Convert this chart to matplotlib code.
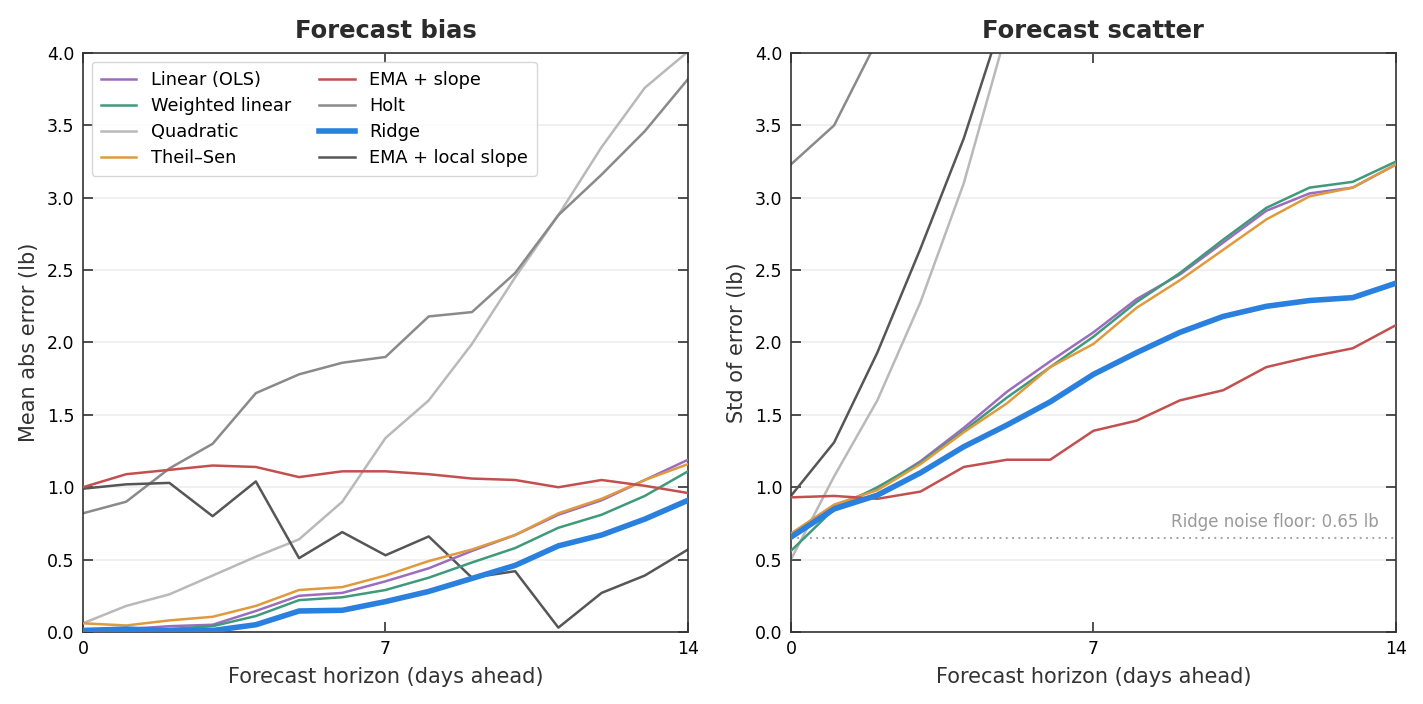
import numpy as np
from matplotlib import pyplot as plt

# Forecast horizon (days ahead)
days = np.arange(15)

# Mean abs error (lb) per method
bias_ols = [0.02, 0.02, 0.04, 0.05, 0.145, 0.25, 0.27, 0.35, 0.44, 0.56, 0.67, 0.81, 0.91, 1.05, 1.19]
bias_wlin = [0.01, 0.01, 0.02, 0.04, 0.11, 0.22, 0.24, 0.29, 0.375, 0.48, 0.58, 0.72, 0.81, 0.94, 1.11]
bias_quad = [0.06, 0.18, 0.26, 0.39, 0.52, 0.64, 0.90, 1.34, 1.60, 1.99, 2.45, 2.88, 3.35, 3.76, 4.01]
bias_theil = [0.06, 0.045, 0.08, 0.105, 0.18, 0.29, 0.31, 0.39, 0.49, 0.57, 0.67, 0.82, 0.92, 1.05, 1.16]
bias_ema = [1.00, 1.09, 1.12, 1.15, 1.14, 1.07, 1.11, 1.11, 1.09, 1.06, 1.05, 1.00, 1.05, 1.01, 0.96]
bias_holt = [0.82, 0.90, 1.13, 1.30, 1.65, 1.78, 1.86, 1.90, 2.18, 2.21, 2.48, 2.88, 3.16, 3.46, 3.82]
bias_ridge = [0.01, 0.02, 0.01, 0.01, 0.05, 0.145, 0.15, 0.21, 0.28, 0.37, 0.46, 0.595, 0.67, 0.78, 0.91]
bias_emaloc = [0.99, 1.02, 1.03, 0.80, 1.04, 0.51, 0.69, 0.53, 0.66, 0.375, 0.42, 0.03, 0.27, 0.39, 0.57]

# Std of error (lb) per method
std_ols = [0.67, 0.87, 0.99, 1.18, 1.41, 1.66, 1.87, 2.07, 2.30, 2.47, 2.69, 2.91, 3.03, 3.07, 3.23]
std_wlin = [0.56, 0.85, 1.00, 1.17, 1.39, 1.62, 1.83, 2.04, 2.28, 2.48, 2.71, 2.93, 3.07, 3.11, 3.25]
std_quad = [0.50, 1.075, 1.60, 2.28, 3.10, 4.16, 5.3, 6.5, 7.8, 9.2, 10.7, 12.3, 14.0, 15.8, 17.7]
std_theil = [0.68, 0.88, 0.98, 1.16, 1.38, 1.58, 1.83, 1.99, 2.24, 2.43, 2.64, 2.85, 3.01, 3.07, 3.23]
std_ema = [0.93, 0.94, 0.92, 0.97, 1.14, 1.19, 1.19, 1.39, 1.46, 1.60, 1.67, 1.83, 1.90, 1.96, 2.12]
std_holt = [3.23, 3.50, 4.09, 4.7, 5.3, 5.9, 6.5, 7.1, 7.7, 8.3, 8.9, 9.5, 10.1, 10.7, 11.3]
std_ridge = [0.655, 0.85, 0.945, 1.10, 1.28, 1.43, 1.59, 1.78, 1.93, 2.07, 2.18, 2.25, 2.29, 2.31, 2.41]
std_emaloc = [0.94, 1.31, 1.93, 2.65, 3.41, 4.33, 5.3, 6.3, 7.3, 8.4, 9.5, 10.6, 11.7, 12.9, 14.1]

noise_floor = 0.65

methods = ["Linear (OLS)", "Weighted linear", "Quadratic", "Theil\u2013Sen",
           "EMA + slope", "Holt", "Ridge", "EMA + local slope"]
colors = ["#9c6cbf", "#3f9a7b", "#b9b9b9", "#e09a3e",
          "#c44f4f", "#8a8a8a", "#2a80de", "#565656"]
widths = [1.8, 1.8, 1.8, 1.8, 1.8, 1.8, 4.0, 1.8]
zorders = [3, 3, 2, 3, 3, 2, 4, 2]

bias = [bias_ols, bias_wlin, bias_quad, bias_theil, bias_ema, bias_holt, bias_ridge, bias_emaloc]
scatter = [std_ols, std_wlin, std_quad, std_theil, std_ema, std_holt, std_ridge, std_emaloc]

plt.rcParams['font.family'] = ['DejaVu Sans']

fig, (ax1, ax2) = plt.subplots(1, 2, figsize=(14.23, 7.04), dpi=100)
fig.subplots_adjust(left=0.0583, right=0.981, bottom=0.1023, top=0.9247, wspace=0.17)

for ax, data, title, ylabel in [(ax1, bias, "Forecast bias", "Mean abs error (lb)"),
                                (ax2, scatter, "Forecast scatter", "Std of error (lb)")]:
    for name, vals, c, lw, z in zip(methods, data, colors, widths, zorders):
        ax.plot(days, vals, color=c, lw=lw, label=name, zorder=z)
    ax.set_xlim(0, 14)
    ax.set_ylim(0, 4)
    ax.set_xticks([0, 7, 14])
    ax.set_yticks(np.arange(0, 4.01, 0.5))
    ax.grid(axis="y", color="#eeeeee", lw=1.2, zorder=0)
    ax.set_axisbelow(True)
    ax.tick_params(direction="in", length=7, width=1.2, top=True, right=True,
                   labelsize=12.5, color="#333333", pad=6)
    for s in ax.spines.values():
        s.set_color("#333333")
        s.set_linewidth(1.2)
    ax.set_title(title, fontsize=17.5, fontweight="bold", color="#2b2b2b", pad=11)
    ax.set_xlabel("Forecast horizon (days ahead)", fontsize=15, color="#333333", labelpad=6)
    ax.set_ylabel(ylabel, fontsize=15, color="#333333", labelpad=6)

ax1.legend(loc="upper left", ncol=2, fontsize=12.8, frameon=True, edgecolor="#cccccc",
           handlelength=2.0, columnspacing=1.6, borderpad=0.5, labelspacing=0.45)

ax2.axhline(noise_floor, color="#999999", lw=1.3, ls=(0, (1, 2.5)), zorder=1)
ax2.text(13.6, noise_floor + 0.05, "Ridge noise floor: 0.65 lb", ha="right", va="bottom",
         fontsize=12, color="#9a9a9a")

plt.savefig("out.png", dpi=100)
